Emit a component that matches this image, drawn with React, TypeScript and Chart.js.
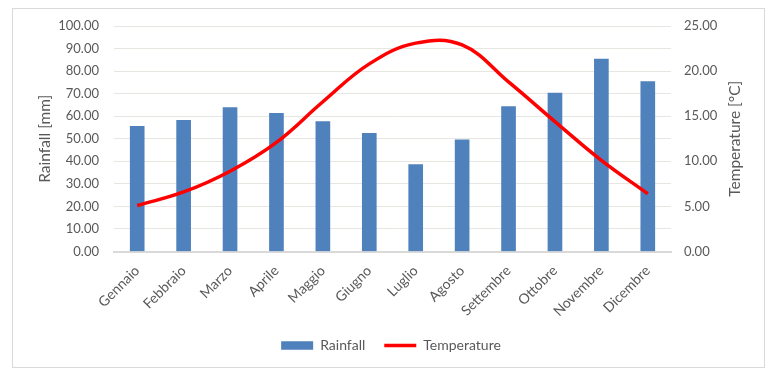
import React, { useEffect, useRef } from "react";
import { Chart, registerables } from "chart.js";

Chart.register(...registerables);

const months = [
  "Gennaio", "Febbraio", "Marzo", "Aprile", "Maggio", "Giugno",
  "Luglio", "Agosto", "Settembre", "Ottobre", "Novembre", "Dicembre",
];
const rainfall = [55.5, 58.2, 63.8, 61.3, 57.6, 52.4, 38.6, 49.5, 64.3, 70.3, 85.3, 75.3];
const temperature = [5.1, 6.6, 8.9, 12.1, 16.6, 20.8, 23.1, 22.9, 18.8, 14.4, 10.1, 6.4];

const TEXT = "#595959";
const FONT = "Lato, 'Open Sans', sans-serif";

const framePlugin = {
  id: "frame",
  afterLayout(chart: any) {
    const l = chart.legend;
    if (l) {
      l.left += 2;
      l.right += 2;
    }
  },
  beforeDraw(chart: any) {
    const ctx = chart.ctx;
    ctx.save();
    ctx.fillStyle = "#ffffff";
    ctx.fillRect(0, 0, chart.width, chart.height);
    ctx.strokeStyle = "#d9d9d9";
    ctx.lineWidth = 1;
    ctx.strokeRect(12.5, 8.5, 752, 359);
    ctx.restore();
  },
  afterDraw(chart: any) {
    const ctx = chart.ctx;
    const a = chart.chartArea;
    ctx.save();
    ctx.translate(735, (a.top + a.bottom) / 2);
    ctx.rotate(-Math.PI / 2);
    ctx.textAlign = "center";
    ctx.textBaseline = "middle";
    ctx.fillStyle = TEXT;
    ctx.font = `15.5px ${FONT}`;
    ctx.fillText("Temperature [°C]", 0, 0);
    ctx.restore();
  },
};

export default function App() {
  const ref = useRef<HTMLCanvasElement>(null);
  useEffect(() => {
    document.body.style.margin = "0";
    const chart = new Chart(ref.current!, {
      type: "bar",
      data: {
        labels: months,
        datasets: [
          {
            type: "bar",
            label: "Rainfall",
            data: rainfall,
            backgroundColor: "#4f81bd",
            borderWidth: 0,
            yAxisID: "y",
            barThickness: 14,
            order: 2,
            pointStyle: "rect",
          } as any,
          {
            type: "line",
            label: "Temperature",
            data: temperature,
            borderColor: "#ff0000",
            backgroundColor: "#ff0000",
            borderWidth: 3.5,
            tension: 0.4,
            pointRadius: 0,
            pointHoverRadius: 0,
            pointBorderWidth: 3.7,
            pointBorderColor: "#ff0000",
            pointBackgroundColor: "#ff0000",
            pointStyle: "line",
            yAxisID: "y1",
            order: 1,
          } as any,
        ],
      },
      options: {
        responsive: false,
        animation: false,
        layout: { padding: { top: 26, left: 13, right: 16, bottom: 18.5 } },
        plugins: {
          legend: {
            position: "bottom",
            labels: {
              usePointStyle: true,
              pointStyleWidth: 32,
              boxHeight: 8.5,
              color: TEXT,
              font: { family: FONT, size: 14 },
              padding: 19,
              sort: (a: any, b: any) => a.datasetIndex - b.datasetIndex,
            },
          },
          tooltip: { enabled: false },
        },
        scales: {
          x: {
            grid: { display: false, drawTicks: false },
            border: { color: "#d9d9d9", width: 2 },
            ticks: {
              minRotation: 45,
              maxRotation: 45,
              autoSkip: false,
              color: TEXT,
              font: { family: FONT, size: 14 },
              padding: 11,
            },
            afterFit: (s: any) => {
              s.height = 68;
            },
          },
          y: {
            position: "left",
            min: 0,
            max: 100,
            ticks: {
              stepSize: 10,
              callback: (v: any) => Number(v).toFixed(2),
              padding: 15,
              color: TEXT,
              font: { family: FONT, size: 13 },
            },
            grid: { color: "#e7e6e0", drawTicks: false },
            border: { display: false },
            title: {
              display: true,
              text: "Rainfall [mm]",
              color: TEXT,
              font: { family: FONT, size: 15.5 },
              padding: { top: 22.7, bottom: 0 },
            },
            afterFit: (s: any) => {
              s.width = 101;
            },
          },
          y1: {
            position: "right",
            min: 0,
            max: 25,
            ticks: {
              stepSize: 5,
              callback: (v: any) => Number(v).toFixed(2),
              padding: 13,
              color: TEXT,
              font: { family: FONT, size: 13 },
            },
            grid: { display: false, drawTicks: false },
            border: { display: false },
            afterFit: (s: any) => {
              s.width = 94;
            },
          },
        },
      } as any,
      plugins: [framePlugin],
    });
    return () => chart.destroy();
  }, []);
  return (
    <div style={{ width: 781, height: 381 }}>
      <canvas ref={ref} width={781} height={381} style={{ width: 781, height: 381, display: "block" }} />
    </div>
  );
}
